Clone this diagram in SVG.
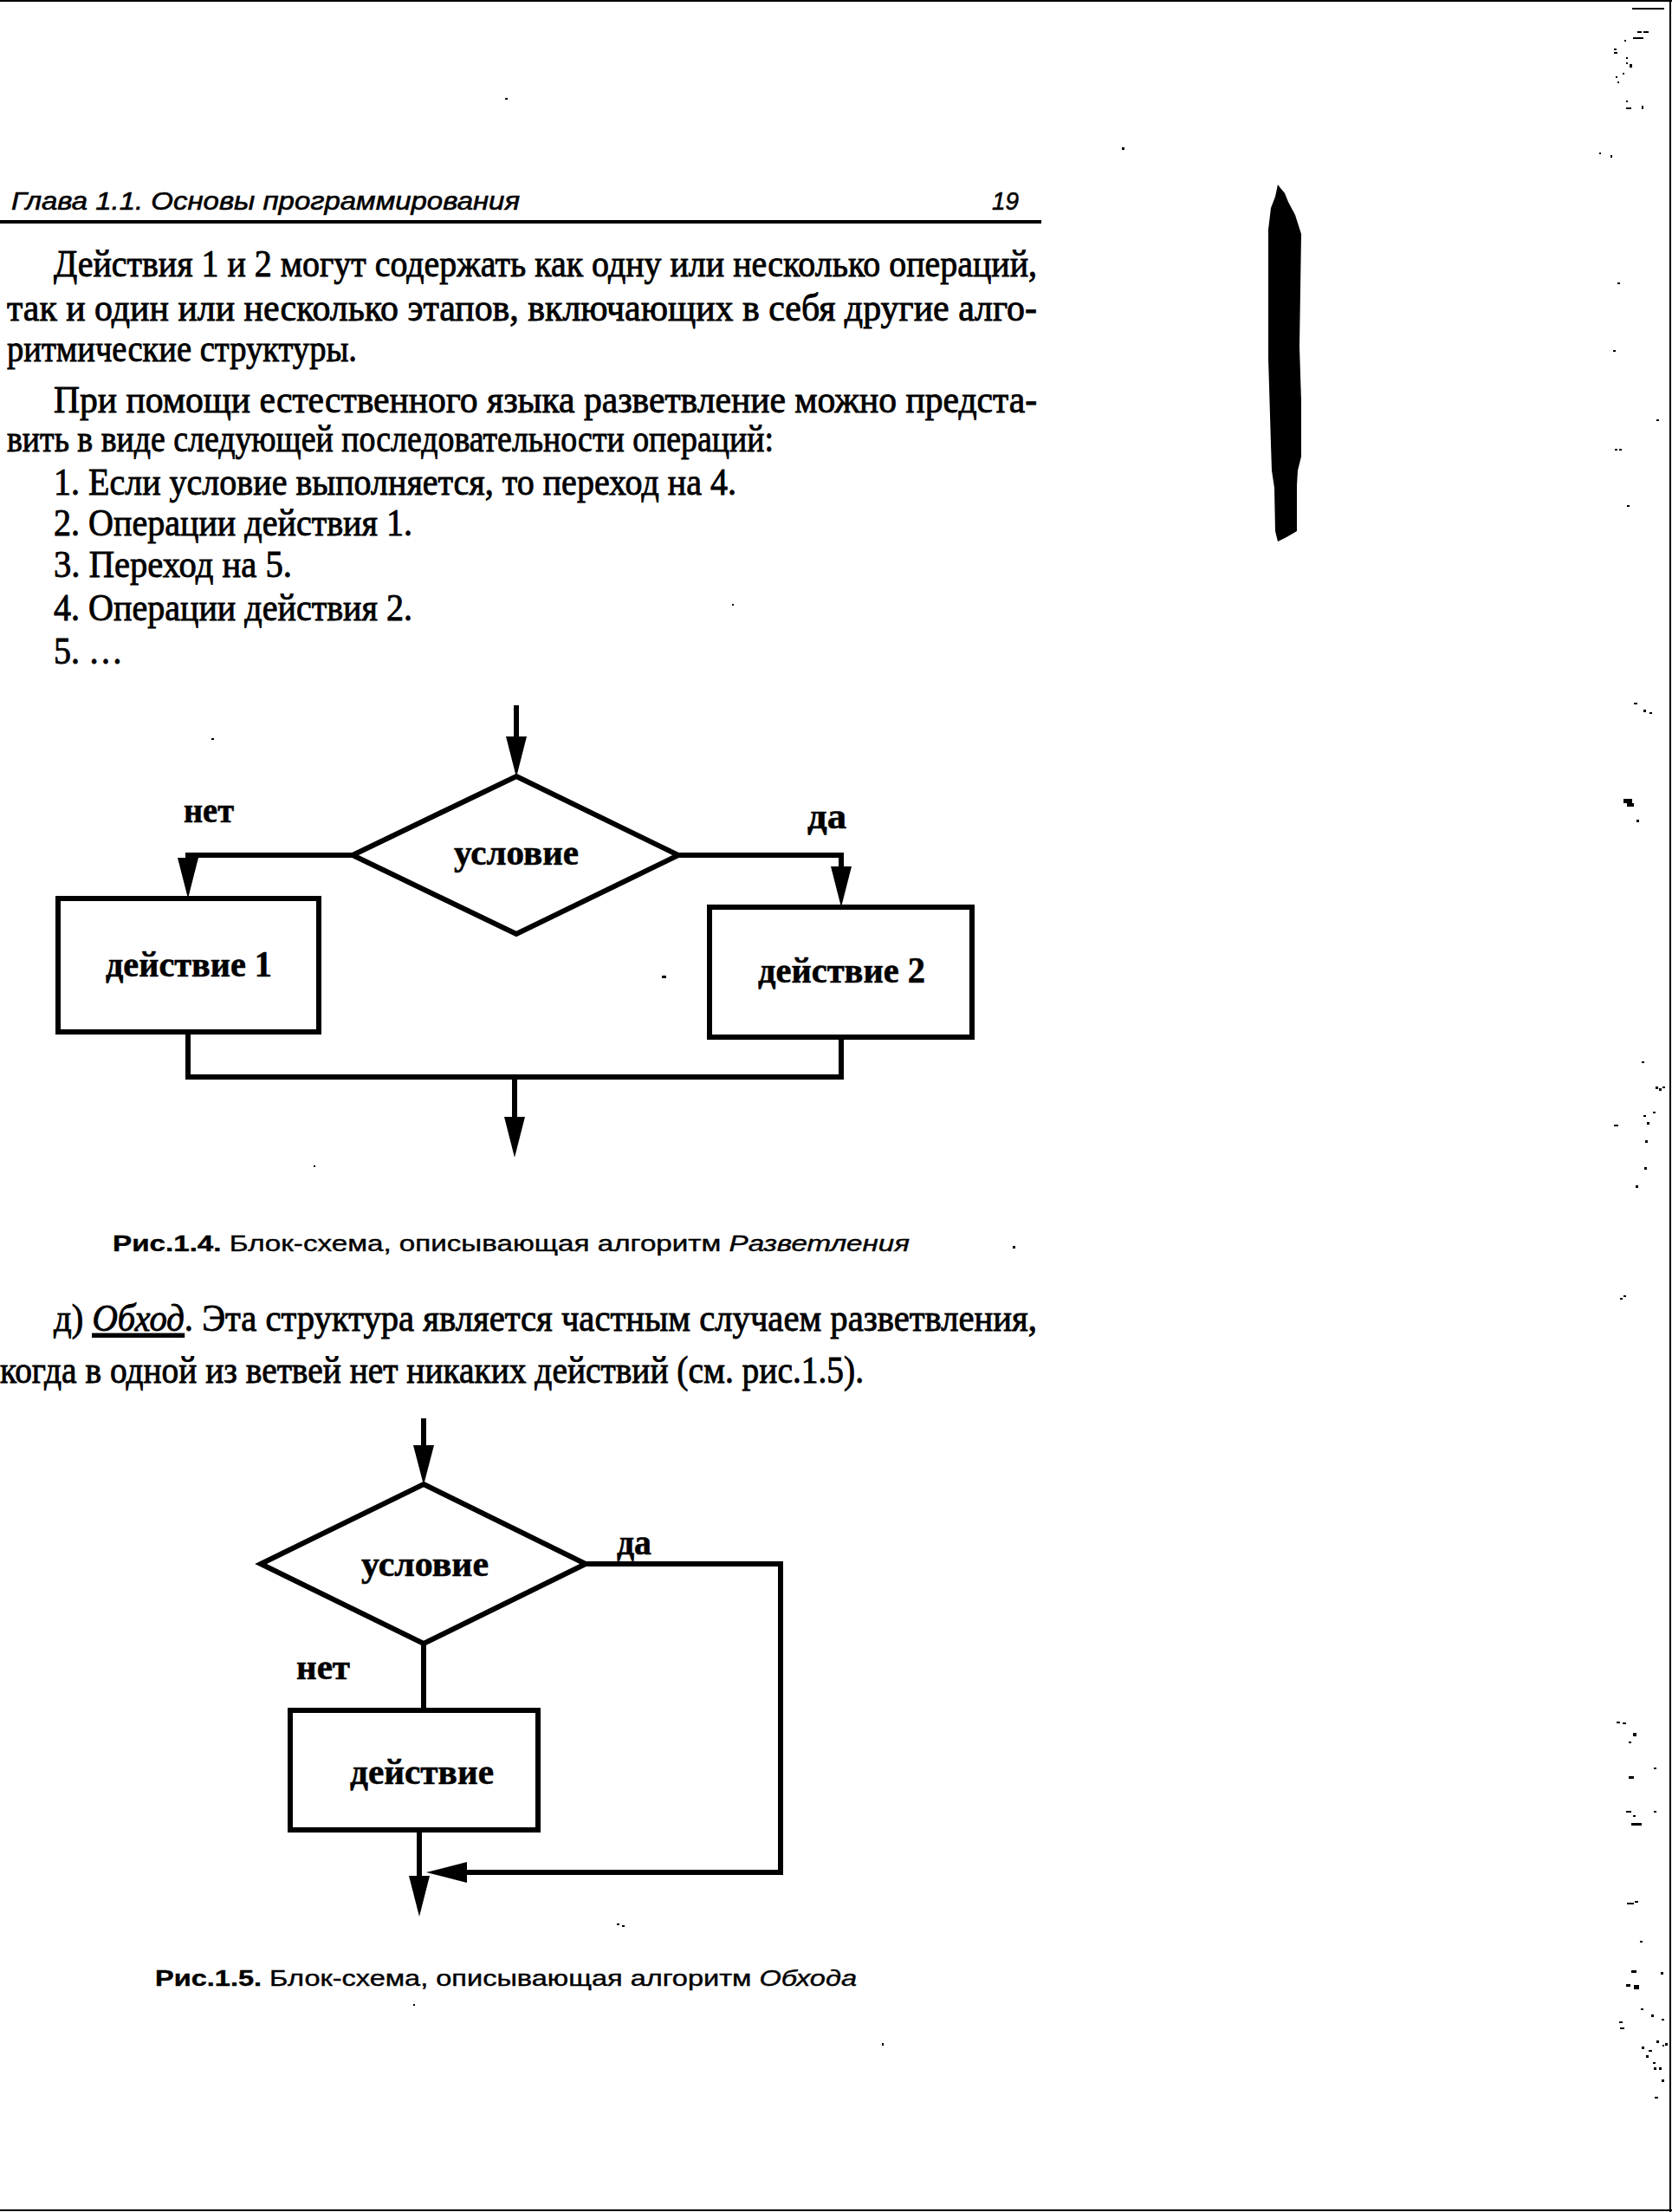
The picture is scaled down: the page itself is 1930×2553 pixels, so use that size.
<svg xmlns="http://www.w3.org/2000/svg" width="1930" height="2553" viewBox="0 0 1930 2553">
<style>
.body{font-family:"Liberation Serif","DejaVu Serif",serif;font-size:44px;fill:#000;stroke:#000;stroke-width:0.9}
.head{font-family:"Liberation Sans","DejaVu Sans",sans-serif;font-size:30px;font-style:italic;fill:#000;stroke:#000;stroke-width:0.6}
.cap{font-family:"Liberation Sans","DejaVu Sans",sans-serif;font-size:26px;fill:#000;stroke:#000;stroke-width:0.4}
.lbl{font-family:"Liberation Serif","DejaVu Serif",serif;font-size:42px;font-weight:bold;fill:#000;stroke:#000;stroke-width:0.6}
.ln{fill:none;stroke:#000;stroke-width:6;stroke-linejoin:miter}
.shape{fill:#fff;stroke:#000;stroke-width:6}
.ah{fill:#000;stroke:none}
.sp{fill:#000}
</style>
<rect x="0" y="0" width="1930" height="2553" fill="#fff"/>
<!-- page border -->
<g id="page-border" fill="none" stroke="#000" stroke-width="2">
<line x1="0" y1="1" x2="1930" y2="1"/>
<line x1="1928" y1="0" x2="1928" y2="2553"/>
<line x1="0" y1="2551" x2="1930" y2="2551"/>
</g>

<!-- header -->
<g id="header">
<text class="head" x="13" y="242" textLength="587" lengthAdjust="spacingAndGlyphs">Глава 1.1. Основы программирования</text>
<text class="head" x="1145" y="242" font-style="normal" textLength="31" lengthAdjust="spacingAndGlyphs">19</text>
<rect x="0" y="254" width="1202" height="4" fill="#000"/>
</g>

<!-- body text -->
<g id="text-top">
<text class="body" x="62" y="319" textLength="1135" lengthAdjust="spacingAndGlyphs">Действия 1 и 2 могут содержать как одну или несколько операций,</text>
<text class="body" x="8" y="370" textLength="1189" lengthAdjust="spacingAndGlyphs">так и один или несколько этапов, включающих в себя другие алго-</text>
<text class="body" x="8" y="417" textLength="404" lengthAdjust="spacingAndGlyphs">ритмические структуры.</text>
<text class="body" x="62" y="476" textLength="1135" lengthAdjust="spacingAndGlyphs">При помощи естественного языка разветвление можно предста-</text>
<text class="body" x="8" y="521" textLength="885" lengthAdjust="spacingAndGlyphs">вить в виде следующей последовательности операций:</text>
<text class="body" x="62" y="571" textLength="788" lengthAdjust="spacingAndGlyphs">1. Если условие выполняется, то переход на 4.</text>
<text class="body" x="62" y="618" textLength="414" lengthAdjust="spacingAndGlyphs">2. Операции действия 1.</text>
<text class="body" x="62" y="666" textLength="275" lengthAdjust="spacingAndGlyphs">3. Переход на 5.</text>
<text class="body" x="62" y="716" textLength="414" lengthAdjust="spacingAndGlyphs">4. Операции действия 2.</text>
<text class="body" x="62" y="766" textLength="80" lengthAdjust="spacingAndGlyphs">5. …</text>
</g>

<!-- Figure 1.4 -->
<g id="fig14-connectors">
<line class="ln" x1="596" y1="814" x2="596" y2="860"/>
<polygon class="ah" points="584,850 608,850 596,897"/>
<polyline class="ln" points="407,987 217,987 217,1000"/>
<polygon class="ah" points="205,990 229,990 217,1037"/>
<polyline class="ln" points="783,987 971,987 971,1010"/>
<polygon class="ah" points="959,1000 983,1000 971,1047"/>
<polyline class="ln" points="217,1191 217,1243 971,1243 971,1197"/>
<line class="ln" x1="594" y1="1243" x2="594" y2="1300"/>
<polygon class="ah" points="582,1289 606,1289 594,1336"/>
</g>
<g id="fig14-decision">
<polygon class="shape" points="596,896 783,987 596,1078 407,987"/>
<text class="lbl" x="524" y="998" textLength="144" lengthAdjust="spacingAndGlyphs">условие</text>
</g>
<g id="fig14-action1">
<rect class="shape" x="67" y="1037" width="301" height="154"/>
<text class="lbl" x="122" y="1127" textLength="192" lengthAdjust="spacingAndGlyphs">действие 1</text>
</g>
<g id="fig14-action2">
<rect class="shape" x="819" y="1047" width="303" height="150"/>
<text class="lbl" x="875" y="1134" textLength="193" lengthAdjust="spacingAndGlyphs">действие 2</text>
</g>
<g id="fig14-labels">
<text class="lbl" x="212" y="949" textLength="58" lengthAdjust="spacingAndGlyphs">нет</text>
<text class="lbl" x="932" y="956" textLength="45" lengthAdjust="spacingAndGlyphs">да</text>
</g>
<g id="fig14-caption">
<text class="cap" x="130" y="1444" textLength="920" lengthAdjust="spacingAndGlyphs"><tspan font-weight="bold">Рис.1.4.</tspan> Блок-схема, описывающая алгоритм <tspan font-style="italic">Разветления</tspan></text>
</g>

<!-- middle text -->
<g id="text-mid">
<text class="body" x="62" y="1536" textLength="1135" lengthAdjust="spacingAndGlyphs">д) <tspan font-style="italic" text-decoration="underline">Обход</tspan>. Эта структура является частным случаем разветвления,</text>
<text class="body" x="0" y="1596" textLength="997" lengthAdjust="spacingAndGlyphs">когда в одной из ветвей нет никаких действий (см. рис.1.5).</text>
</g>

<!-- Figure 1.5 -->
<g id="fig15-connectors">
<line class="ln" x1="489" y1="1637" x2="489" y2="1680"/>
<polygon class="ah" points="477,1668 501,1668 489,1714"/>
<polyline class="ln" points="676,1805 901,1805 901,2161 530,2161"/>
<polygon class="ah" points="539,2149 539,2173 492,2161"/>
<line class="ln" x1="489" y1="1897" x2="489" y2="1974"/>
<line class="ln" x1="484" y1="2112" x2="484" y2="2175"/>
<polygon class="ah" points="472,2165 496,2165 484,2212"/>
</g>
<g id="fig15-decision">
<polygon class="shape" points="489,1713 676,1805 489,1897 301,1805"/>
<text class="lbl" x="417" y="1819" textLength="147" lengthAdjust="spacingAndGlyphs">условие</text>
</g>
<g id="fig15-action">
<rect class="shape" x="335" y="1974" width="286" height="138"/>
<text class="lbl" x="404" y="2059" textLength="166" lengthAdjust="spacingAndGlyphs">действие</text>
</g>
<g id="fig15-labels">
<text class="lbl" x="712" y="1794" textLength="40" lengthAdjust="spacingAndGlyphs">да</text>
<text class="lbl" x="342" y="1938" textLength="62" lengthAdjust="spacingAndGlyphs">нет</text>
</g>
<g id="fig15-caption">
<text class="cap" x="179" y="2292" textLength="810" lengthAdjust="spacingAndGlyphs"><tspan font-weight="bold">Рис.1.5.</tspan> Блок-схема, описывающая алгоритм <tspan font-style="italic">Обхода</tspan></text>
</g>

<!-- scan smear -->
<g id="smear">
<path fill="#000" d="M1475,213 L1478,217 L1483,223 L1487,233 L1495,248 L1502,270 L1500,400 L1502,463 L1502,527 L1498,543 L1497,560 L1497,613 L1485,620 L1475,625 L1472,613 L1471,563 L1468,543 L1467,513 L1464,413 L1464,265 L1467,240 L1472,227 Z"/>
</g>

<!-- scan specks -->
<g id="specks" class="sp">
<rect x="1884" y="9" width="37" height="2"/>
<rect x="1890" y="36" width="5" height="2"/><rect x="1897" y="36" width="6" height="2"/>
<rect x="1885" y="43" width="12" height="2"/>
<rect x="1875" y="46" width="2" height="2"/>
<rect x="1863" y="56" width="3" height="2"/><rect x="1863" y="60" width="4" height="2"/>
<rect x="1877" y="66" width="2" height="2"/><rect x="1877" y="72" width="2" height="2"/>
<rect x="1881" y="74" width="3" height="4"/><rect x="1873" y="84" width="2" height="2"/>
<rect x="1865" y="88" width="2" height="2"/><rect x="1867" y="94" width="2" height="2"/>
<rect x="1877" y="116" width="2" height="2"/><rect x="1877" y="124" width="6" height="2"/>
<rect x="1895" y="122" width="2" height="4"/>
<rect x="1846" y="176" width="2" height="2"/><rect x="1859" y="179" width="2" height="3"/>
<rect x="1867" y="326" width="3" height="2"/>
<rect x="1862" y="404" width="3" height="2"/>
<rect x="1912" y="484" width="3" height="2"/>
<rect x="1864" y="518" width="3" height="2"/><rect x="1869" y="518" width="3" height="2"/>
<rect x="1878" y="583" width="3" height="2"/>
<rect x="1886" y="811" width="4" height="2"/><rect x="1897" y="819" width="3" height="3"/><rect x="1904" y="822" width="3" height="2"/>
<rect x="1874" y="922" width="10" height="5"/><rect x="1878" y="927" width="8" height="4"/><rect x="1889" y="946" width="3" height="3"/>
<rect x="1895" y="1225" width="3" height="2"/>
<rect x="1911" y="1254" width="3" height="3"/><rect x="1915" y="1256" width="3" height="3"/><rect x="1919" y="1254" width="3" height="2"/>
<rect x="1863" y="1298" width="5" height="2"/>
<rect x="1897" y="1287" width="3" height="2"/><rect x="1901" y="1295" width="3" height="3"/><rect x="1908" y="1283" width="3" height="2"/>
<rect x="1899" y="1316" width="3" height="3"/><rect x="1898" y="1347" width="3" height="3"/><rect x="1888" y="1368" width="3" height="3"/>
<rect x="1870" y="1498" width="3" height="2"/><rect x="1874" y="1495" width="3" height="2"/>
<rect x="1866" y="1987" width="4" height="2"/><rect x="1873" y="1988" width="4" height="2"/>
<rect x="1885" y="2000" width="4" height="4"/><rect x="1880" y="2010" width="3" height="2"/>
<rect x="1880" y="2050" width="6" height="3"/><rect x="1909" y="2040" width="3" height="2"/>
<rect x="1877" y="2090" width="6" height="2"/><rect x="1885" y="2095" width="3" height="2"/><rect x="1883" y="2104" width="12" height="3"/><rect x="1909" y="2090" width="3" height="2"/>
<rect x="1878" y="2196" width="8" height="2"/><rect x="1887" y="2194" width="4" height="2"/><rect x="1893" y="2240" width="3" height="2"/>
<rect x="1883" y="2274" width="6" height="3"/><rect x="1877" y="2290" width="5" height="3"/><rect x="1886" y="2291" width="6" height="5"/><rect x="1917" y="2276" width="3" height="3"/>
<rect x="1869" y="2333" width="4" height="2"/><rect x="1870" y="2340" width="5" height="2"/>
<rect x="1894" y="2318" width="3" height="2"/><rect x="1906" y="2325" width="3" height="3"/><rect x="1918" y="2330" width="3" height="2"/>
<rect x="1895" y="2362" width="3" height="3"/><rect x="1903" y="2366" width="4" height="2"/><rect x="1900" y="2372" width="3" height="3"/>
<rect x="1908" y="2380" width="3" height="2"/><rect x="1912" y="2355" width="3" height="3"/><rect x="1922" y="2358" width="3" height="3"/>
<rect x="1909" y="2386" width="3" height="3"/><rect x="1915" y="2386" width="3" height="3"/>
<rect x="1919" y="2360" width="2" height="2"/><rect x="1918" y="2400" width="3" height="3"/>
<rect x="1910" y="2420" width="4" height="2"/>
<rect x="583" y="113" width="3" height="2"/>
<rect x="1295" y="170" width="3" height="3"/>
<rect x="244" y="852" width="3" height="2"/>
<rect x="764" y="1126" width="5" height="3"/>
<rect x="845" y="697" width="2" height="2"/>
<rect x="362" y="1345" width="2" height="2"/>
<rect x="1169" y="1438" width="3" height="3"/>
<rect x="712" y="2220" width="3" height="2"/><rect x="718" y="2222" width="3" height="2"/>
<rect x="477" y="2313" width="2" height="2"/>
<rect x="1018" y="2358" width="2" height="3"/>
</g>
</svg>
